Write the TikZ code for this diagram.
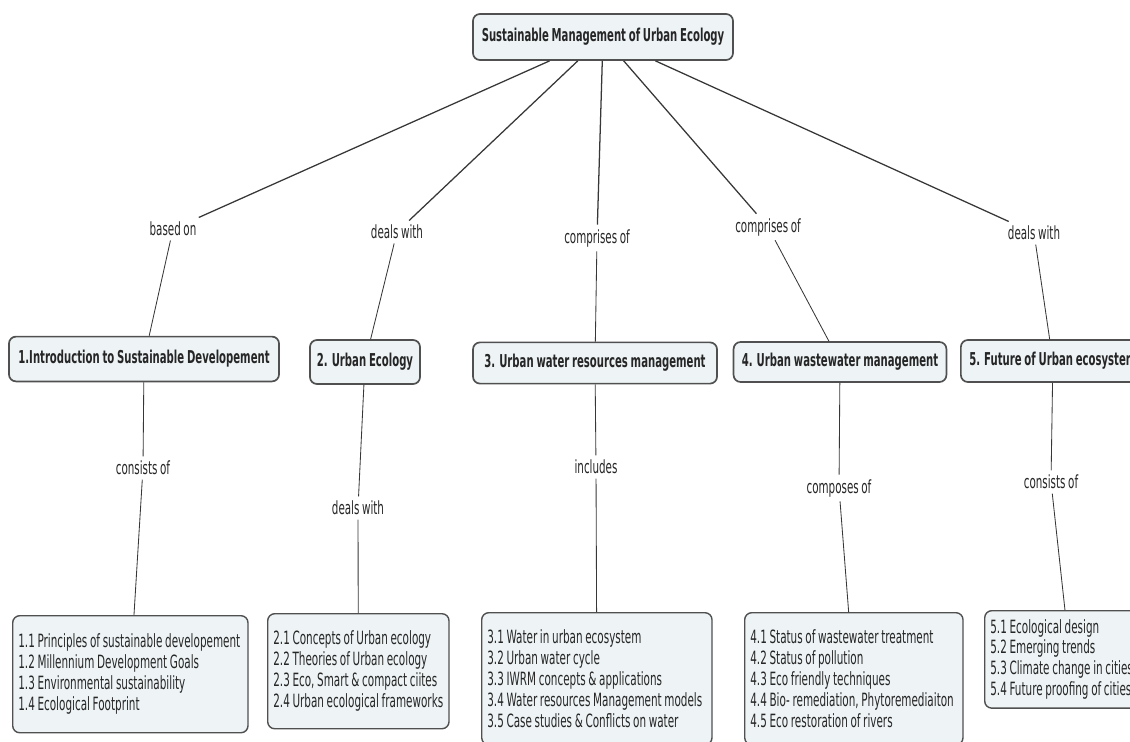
\documentclass[tikz,border=0pt]{standalone}
\usepackage{fontspec}
\setmainfont{DejaVu Sans}[FakeStretch=0.57, WordSpace=0.8]
\usetikzlibrary{positioning}
\definecolor{boxfill}{RGB}{238,244,246}
\definecolor{boxline}{RGB}{80,80,80}
\definecolor{linkgray}{RGB}{55,55,55}
\hyphenpenalty=10000
\exhyphenpenalty=10000

\begin{document}
\begin{tikzpicture}[x=0.025cm, y=-0.025cm,
    topic/.style={rectangle, rounded corners=5pt, draw=boxline, line width=1.2pt, fill=boxfill, font=\fontsize{12.6}{14}\selectfont\bfseries, text=black!85, inner sep=2pt},
    leaf/.style={rectangle, rounded corners=5pt, draw=boxline, line width=1pt, fill=boxfill, anchor=north west, align=flush left, font=\fontsize{13}{14.9}\selectfont, text=black!85, inner xsep=4pt, inner ysep=6pt},
    link/.style={font=\fontsize{12.9}{14}\selectfont, text=black!85, inner sep=3pt},
    conn/.style={draw=linkgray, line width=0.6pt}]
    \useasboundingbox (0,0) rectangle (1130,742);

    % Root
    \node[topic, minimum width=6.5cm, minimum height=1.15cm] (root) at (603,37) {Sustainable Management of Urban Ecology};

    % Main topics
    \node[topic, minimum width=6.75cm, minimum height=1.12cm] (topic1) at (144,359) {1.Introduction to Sustainable Developement};
    \node[topic, minimum width=2.75cm, minimum height=1.1cm] (topic2) at (365,362) {2. Urban Ecology};
    \node[topic, minimum width=6.1cm, minimum height=1.03cm] (topic3) at (595,363) {3. Urban water resources management};
    \node[topic, minimum width=5.32cm, minimum height=1.0cm] (topic4) at (840,362) {4. Urban wastewater management};
    \node[topic, minimum width=4.6cm, minimum height=1.05cm, anchor=west] (topic5) at (960,361) {5. Future of Urban ecosystem};

    % Link labels, upper row
    \node[link] (lab1) at (173,229) {based on};
    \node[link] (lab2) at (397,232) {deals with};
    \node[link] (lab3) at (597,238) {comprises of};
    \node[link] (lab4) at (768,227) {comprises of};
    \node[link] (lab5) at (1034,233) {deals with};

    % Link labels, lower row
    \node[link] (sub1) at (143,468) {consists of};
    \node[link] (sub2) at (358,508) {deals with};
    \node[link] (sub3) at (596,467) {includes};
    \node[link] (sub4) at (839,488) {composes of};
    \node[link] (sub5) at (1051,482) {consists of};

    % Sub topics
    \node[leaf, text width=5.6cm, minimum height=2.925cm] (leaf1) at (12,615) {1.1 Principles of sustainable developement\\1.2 Millennium Development Goals\\1.3 Environmental sustainability\\1.4 Ecological Footprint};
    \node[leaf, text width=4.25cm, minimum height=2.875cm] (leaf2) at (267,613) {2.1 Concepts of Urban ecology\\2.2 Theories of Urban ecology\\2.3 Eco, Smart \& compact ciites\\2.4 Urban ecological frameworks};
    \node[leaf, text width=5.475cm, minimum height=3.3cm] (leaf3) at (481,612) {3.1 Water in urban ecosystem\\3.2 Urban water cycle\\3.3 IWRM concepts \& applications\\3.4 Water resources Management models\\3.5 Case studies \& Conflicts on water};
    \node[leaf, text width=5.175cm, minimum height=3.3cm] (leaf4) at (744,612) {4.1 Status of wastewater treatment\\4.2 Status of pollution\\4.3 Eco friendly techniques\\4.4 Bio- remediation, Phytoremediaiton\\4.5 Eco restoration of rivers};
    \node[leaf, text width=4cm, minimum height=2.375cm] (leaf5) at (984,610) {5.1 Ecological design\\5.2 Emerging trends\\5.3 Climate change in cities\\5.4 Future proofing of cities};

    % Connectors
    \foreach \i in {1,...,5} {
        \draw[conn, line width=0.9pt] (root) -- (lab\i);
        \draw[conn] (lab\i) -- (topic\i);
        \draw[conn] (topic\i) -- (sub\i);
        \draw[conn] (sub\i) -- (leaf\i);
    }
\end{tikzpicture}
\end{document}
